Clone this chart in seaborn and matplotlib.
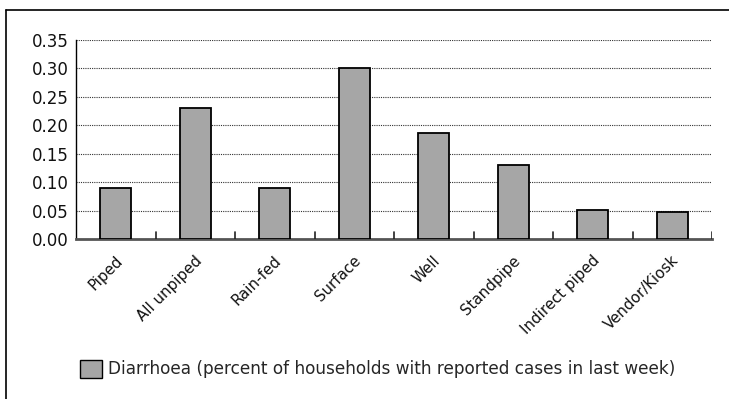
import matplotlib
matplotlib.use("Agg")
import matplotlib.pyplot as plt
import matplotlib.transforms as mtransforms
from matplotlib.patches import Patch
from matplotlib.lines import Line2D
import seaborn as sns
import pandas as pd

# Water source categories and diarrhoea prevalence
sources = ["Piped", "All unpiped", "Rain-fed", "Surface", "Well",
           "Standpipe", "Indirect piped", "Vendor/Kiosk"]
diarrhoea = [0.09, 0.23, 0.09, 0.30, 0.187, 0.13, 0.051, 0.047]
y_ticks = [0.00, 0.05, 0.10, 0.15, 0.20, 0.25, 0.30, 0.35]
series_label = "Diarrhoea (percent of households with reported cases in last week)"

df = pd.DataFrame({"source": sources, "value": diarrhoea})

sns.set_style("white")
plt.rcParams["font.family"] = ["DejaVu Sans"]

fig = plt.figure(figsize=(7.29, 3.99), dpi=100)
ax = fig.add_axes([76 / 729, 1 - 239 / 399, (712 - 76) / 729, (239 - 40) / 399])

bar_color = "#a6a6a6"
sns.barplot(data=df, x="source", y="value", color=bar_color, width=0.39,
            edgecolor="black", linewidth=1.3, saturation=1, ax=ax, zorder=3)

ax.set_xlim(-0.5, len(sources) - 0.5)
ax.set_ylim(0, 0.35)
ax.set_yticks(y_ticks)
ax.set_yticklabels([f"{v:.2f}" for v in y_ticks], fontsize=12, color="#111111")
ax.set_xlabel("")
ax.set_ylabel("")

# dotted horizontal gridlines
ax.yaxis.grid(True, linestyle=(0, (1, 1)), color="#333333", linewidth=0.8, zorder=0)
ax.xaxis.grid(False)
ax.set_axisbelow(True)

for side in ["top", "right"]:
    ax.spines[side].set_visible(False)
ax.spines["left"].set_color("black")
ax.spines["left"].set_linewidth(1.0)
ax.spines["bottom"].set_color("#555555")
ax.spines["bottom"].set_linewidth(2.0)

ax.tick_params(axis="y", length=0, pad=5.5)

# rotated category labels, ending just under each bar
ax.set_xticks(range(len(sources)))
ax.set_xticklabels(sources, rotation=45, ha="right", va="top",
                   rotation_mode="anchor", fontsize=10.8, color="#111111")
ax.tick_params(axis="x", length=0, pad=10)
offset = mtransforms.ScaledTranslation(-1 / 100, 0, fig.dpi_scale_trans)
for lbl in ax.get_xticklabels():
    lbl.set_transform(lbl.get_transform() + offset)

# category boundary ticks on the x axis, pointing up into the plot
for b in range(1, len(sources) + 1):
    ax.add_line(Line2D([b - 0.5, b - 0.5], [0, 0.012], color="#222222",
                       linewidth=1.2, zorder=4))

# outer frame lines (top and left)
fig.add_artist(Line2D([6 / 729, 1.0], [1 - 10 / 399, 1 - 10 / 399],
                      transform=fig.transFigure, color="black", linewidth=1.2))
fig.add_artist(Line2D([6 / 729, 6 / 729], [1 - 10 / 399, 0.0],
                      transform=fig.transFigure, color="black", linewidth=1.2))

handle = Patch(facecolor=bar_color, edgecolor="black", linewidth=1.0)
fig.legend([handle], [series_label], loc="center",
           bbox_to_anchor=(378 / 729, 1 - 369 / 399), frameon=False,
           prop={"family": "DejaVu Sans", "size": 12.2},
           handlelength=1.3, handleheight=1.3, handletextpad=0.35,
           borderpad=0, borderaxespad=0)

fig.savefig("out.png", dpi=100)
